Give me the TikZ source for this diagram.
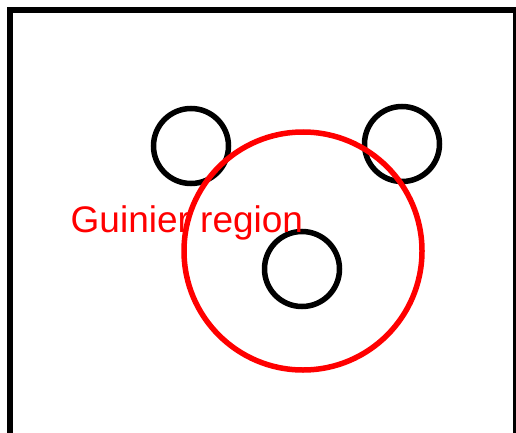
\documentclass[tikz,border=0pt]{standalone}
\usepackage{fontspec}
\setmainfont{Liberation Sans}
\begin{document}
\begin{tikzpicture}[x=1pt,y=-1pt,
  particle/.style={circle, draw=black, line width=5.5pt, minimum size=75pt, inner sep=0pt},
  guinier/.style={circle, draw=red, line width=5.5pt, minimum size=238pt, inner sep=0pt}]
  \useasboundingbox (0,0) rectangle (516,433);
  \clip (0,0) rectangle (516,433);

  % Frame (only top, left and right edges fall inside)
  \draw[line width=6pt] (10,445) -- (10,10) -- (516,10) -- (516,445);

  % Particles
  \node[particle] (pa) at (191,146) {};
  \node[particle] (pb) at (402,144) {};
  \node[particle] (pc) at (302,269) {};

  % Guinier region
  \node[guinier] (reg) at (303,251) {};
  \node[red, anchor=base west, inner sep=0pt, font=\fontsize{37}{42}\selectfont] (lbl) at (70.5,232.5) {Guinier region};
\end{tikzpicture}
\end{document}
